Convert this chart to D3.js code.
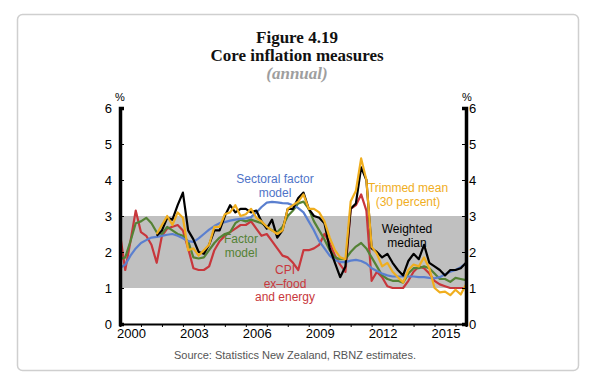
<!DOCTYPE html>
<html><head><meta charset="utf-8">
<script src="https://cdn.jsdelivr.net/npm/d3@7"></script>
<style>body{margin:0;background:#fff}svg{display:block}</style>
</head><body>
<script>
// ---- data (quarterly, 2000Q1 .. 2016Q3) ----
const startYear = 2000, nQuarters = 67;
const quarters = [];
for (let i = 0; i < nQuarters; i++) quarters.push(startYear + i / 4);

const cpiExFoodEnergy = [2.5,1.5,2.3,3.15,2.55,2.45,2.2,1.7,2.45,2.65,2.7,2.75,2.6,2.1,1.55,1.5,1.5,1.6,2.05,2.3,2.45,2.55,2.65,2.75,2.75,2.85,2.65,2.45,2.5,2.3,2.1,1.9,1.85,1.7,1.5,2.05,2.05,2.1,2.2,2.5,2.25,1.9,1.65,1.45,3.2,3.3,3.6,3.15,1.2,1.45,1.3,1.05,1.0,1.0,1.0,1.2,1.45,1.6,1.55,1.4,1.2,1.1,1.05,1.0,1.0,1.0,1.0];
const factorModel = [1.8,1.85,2.3,2.8,2.85,2.95,2.8,2.55,2.5,2.7,2.6,2.5,2.45,2.3,1.85,1.82,1.85,2.05,2.25,2.4,2.5,2.55,2.8,2.9,2.85,2.9,2.85,2.8,2.7,2.6,2.55,2.7,3.0,3.15,3.35,3.4,3.2,2.85,2.6,2.35,2.05,1.85,1.8,1.8,2.0,2.15,2.25,2.1,1.85,1.6,1.35,1.25,1.2,1.2,1.15,1.4,1.55,1.55,1.6,1.55,1.4,1.25,1.25,1.17,1.28,1.25,1.22];
const sectoralFactor = [1.55,1.65,1.9,2.1,2.25,2.33,2.4,2.42,2.45,2.48,2.5,2.45,2.38,2.3,2.28,2.38,2.5,2.62,2.72,2.8,2.83,2.87,2.9,2.92,2.93,2.97,3.1,3.25,3.37,3.39,3.38,3.36,3.35,3.3,3.22,3.1,2.85,2.6,2.3,2.1,1.9,1.78,1.72,1.72,1.76,1.78,1.75,1.68,1.55,1.47,1.4,1.35,1.32,1.32,1.32,1.32,1.32,1.3,1.3,1.28,1.27,1.3,1.38,1.45,1.5,1.58,1.68];
const weightedMedian = [null,null,null,null,null,null,null,2.45,2.6,2.95,2.9,3.3,3.65,2.6,2.35,2.0,1.95,2.2,2.6,2.6,3.0,3.3,3.1,3.2,3.2,3.1,3.15,2.85,2.65,2.9,2.4,2.6,3.2,3.2,3.5,3.65,3.2,3.0,2.95,2.8,2.1,1.7,1.3,1.6,3.2,3.35,4.35,4.0,2.1,2.0,1.85,1.95,1.7,1.5,1.35,1.75,1.95,1.8,2.2,1.7,1.6,1.5,1.35,1.5,1.5,1.55,1.7];
const trimmedMean = [null,null,null,null,null,null,null,2.5,2.75,3.0,2.75,3.1,2.95,2.05,2.1,1.9,2.05,2.2,2.7,2.7,3.05,3.1,3.3,3.0,3.05,3.2,2.95,2.85,2.7,2.6,2.5,2.6,3.2,3.3,3.4,3.6,3.2,3.2,3.1,2.85,2.4,2.05,1.85,1.8,3.4,3.7,4.6,4.0,2.15,1.95,1.6,1.7,1.45,1.3,1.15,1.5,1.65,1.6,1.85,1.55,1.0,0.88,0.9,0.8,0.95,0.82,1.1];

const yTicks = [0,1,2,3,4,5,6];
const yearTicks = [2000,2001,2002,2003,2004,2005,2006,2007,2008,2009,2010,2011,2012,2013,2014,2015,2016];
const yearLabels = [2000,2003,2006,2009,2012,2015];
const targetBand = [1, 3];

const seriesList = [
  {name:"CPI ex-food and energy", values: cpiExFoodEnergy, color:"#c8373c"},
  {name:"Factor model", values: factorModel, color:"#548235"},
  {name:"Sectoral factor model", values: sectoralFactor, color:"#5a7fcf"},
  {name:"Weighted median", values: weightedMedian, color:"#000000"},
  {name:"Trimmed mean", values: trimmedMean, color:"#f0ae1e"}
];

// ---- drawing ----
const W = 590, H = 379;
const svg = d3.select("body").append("svg").attr("width", W).attr("height", H);

svg.append("rect").attr("x",17.5).attr("y",14.5).attr("width",561).attr("height",356)
  .attr("rx",5).attr("fill","#fff").attr("stroke","#cfcfcf").attr("stroke-width",1.5);

const serif = "'Liberation Serif', 'Times New Roman', serif";
const sans = "'Liberation Sans', Arial, sans-serif";
svg.append("text").attr("x",297).attr("y",43).attr("text-anchor","middle")
  .attr("font-family",serif).attr("font-weight","bold").attr("font-size",17).attr("fill","#111").text("Figure 4.19");
svg.append("text").attr("x",297).attr("y",61).attr("text-anchor","middle")
  .attr("font-family",serif).attr("font-weight","bold").attr("font-size",17).attr("fill","#111").text("Core inflation measures");
svg.append("text").attr("x",297).attr("y",79).attr("text-anchor","middle")
  .attr("font-family",serif).attr("font-weight","bold").attr("font-style","italic").attr("font-size",17).attr("fill","#9e9e9e").text("(annual)");

const x = d3.scaleLinear().domain([2000, 2016.5]).range([120, 466]);
const y = d3.scaleLinear().domain([0, 6]).range([324, 108]);

// target band
svg.append("rect").attr("x", x(2000)).attr("width", x(2016.5) - x(2000))
  .attr("y", y(targetBand[1])).attr("height", y(targetBand[0]) - y(targetBand[1]))
  .attr("fill","#c0c0c0");

// lines
const line = d3.line().defined(d => d[1] != null).x(d => x(d[0])).y(d => y(d[1]));
seriesList.forEach(s => {
  svg.append("path").datum(quarters.map((q,i) => [q, s.values[i]]))
    .attr("d", line).attr("fill","none").attr("stroke", s.color)
    .attr("stroke-width",2.2).attr("stroke-linejoin","round");
});

// axes
const yl = svg.append("g").attr("transform","translate(120,0)")
  .call(d3.axisLeft(y).tickValues(yTicks).tickSize(-4).tickPadding(8).tickFormat(d3.format("d")));
const yr = svg.append("g").attr("transform","translate(466,0)")
  .call(d3.axisRight(y).tickValues(yTicks).tickSize(-4).tickPadding(3).tickFormat(d3.format("d")));
[yl, yr].forEach(g => {
  g.select(".domain").attr("stroke","#000").attr("stroke-width",3.5);
  g.selectAll(".tick line").attr("stroke","#000").attr("stroke-width",1);
  g.selectAll(".tick text").attr("font-family",sans).attr("font-size",13).attr("fill","#000");
});
const xa = svg.append("g").attr("transform","translate(0,324)")
  .call(d3.axisBottom(x).tickValues(yearTicks).tickSize(3).tickFormat(""));
xa.select(".domain").attr("stroke","#000").attr("stroke-width",2);
xa.selectAll(".tick line").attr("stroke","#000");
svg.append("g").selectAll("text").data(yearLabels).join("text")
  .attr("x", d => x(d + 0.5) + 1).attr("y", 338).attr("text-anchor","middle")
  .attr("font-family",sans).attr("font-size",13).attr("fill","#000").text(d => d);

svg.append("text").attr("x",120).attr("y",101).attr("text-anchor","middle")
  .attr("font-family",sans).attr("font-size",11).text("%");
svg.append("text").attr("x",467).attr("y",101).attr("text-anchor","middle")
  .attr("font-family",sans).attr("font-size",11).text("%");

// annotations
const ann = [
  {lines:["Sectoral factor","model"], x:275, y:183, color:"#4f74c8"},
  {lines:["Factor","model"], x:241, y:243, color:"#548235"},
  {lines:["CPI","ex\u2013food","and energy"], x:285, y:274, color:"#c8373c"},
  {lines:["Trimmed mean","(30 percent)"], x:408, y:192, color:"#f0ae1e"},
  {lines:["Weighted","median"], x:407, y:233, color:"#000"}
];
ann.forEach(a => {
  const t = svg.append("text").attr("text-anchor","middle").attr("font-family",sans)
    .attr("font-size",12).attr("fill",a.color);
  a.lines.forEach((l,i) => t.append("tspan").attr("x",a.x).attr("y",a.y + i*13.5).text(l));
});

svg.append("text").attr("x",295).attr("y",359).attr("text-anchor","middle")
  .attr("font-family",sans).attr("font-size",11).attr("fill","#555")
  .text("Source: Statistics New Zealand, RBNZ estimates.");
</script>
</body></html>
